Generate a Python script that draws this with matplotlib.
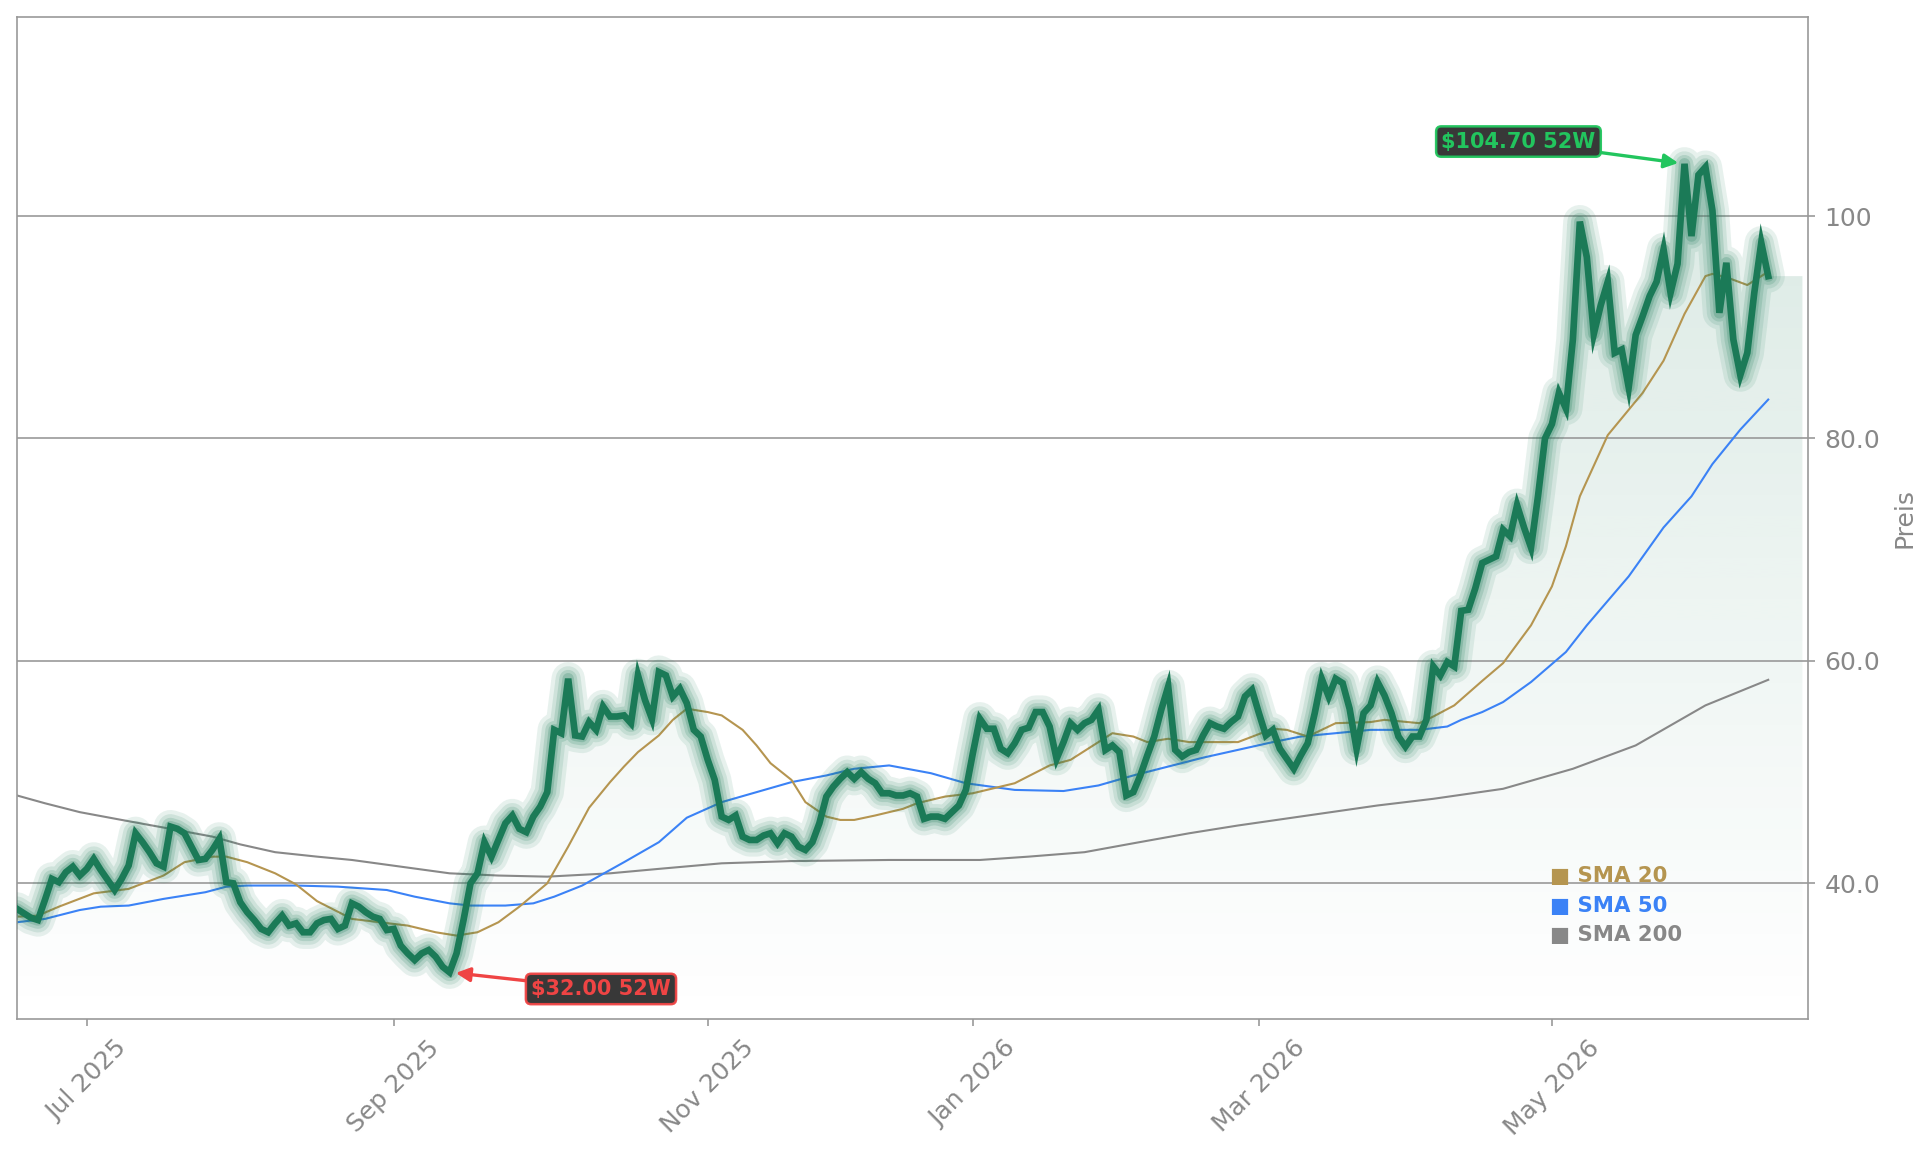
import numpy as np
import matplotlib
matplotlib.use("Agg")
import matplotlib.pyplot as plt
import matplotlib.colors as mcolors
from matplotlib.patches import Polygon
from matplotlib.ticker import FuncFormatter, FixedLocator

# ---------------- data ----------------
prices = [
    37.7, 37.3, 36.9, 36.7, 38.5, 40.4, 40.1, 41.0, 41.5, 40.7,
    41.3, 42.2, 41.2, 40.3, 39.4, 40.4, 41.6, 44.5, 43.7, 42.8,
    41.8, 41.5, 45.1, 44.9, 44.5, 43.3, 42.1, 42.2, 43.0, 44.0,
    40.1, 40.0, 38.3, 37.4, 36.7, 35.9, 35.6, 36.4, 37.1, 36.2,
    36.4, 35.6, 35.6, 36.4, 36.7, 36.8, 35.9, 36.2, 38.2, 37.9,
    37.4, 37.0, 36.8, 35.8, 35.9, 34.4, 33.7, 33.1, 33.7, 34.0,
    33.4, 32.5, 32.0, 33.7, 36.7, 40.0, 40.9, 43.7, 42.4, 43.9,
    45.4, 46.1, 44.9, 44.6, 46.0, 46.9, 48.2, 53.8, 53.5, 58.4,
    53.3, 53.2, 54.5, 53.8, 55.9, 55.0, 55.0, 55.1, 54.4, 58.7,
    56.5, 54.8, 59.0, 58.7, 56.8, 57.5, 56.2, 53.8, 53.2, 51.1,
    49.3, 46.0, 45.7, 46.1, 44.2, 43.9, 43.9, 44.3, 44.5, 43.6,
    44.5, 44.2, 43.3, 43.0, 43.7, 45.4, 47.8, 48.7, 49.4, 50.0,
    49.4, 50.0, 49.4, 49.0, 48.1, 48.1, 47.9, 47.9, 48.1, 47.8,
    45.8, 46.0, 46.0, 45.8, 46.4, 47.0, 48.4, 51.7, 54.8, 53.9,
    53.9, 52.1, 51.7, 52.6, 53.8, 54.0, 55.4, 55.4, 54.1, 51.2,
    52.7, 54.4, 53.8, 54.4, 54.7, 55.6, 52.0, 52.4, 51.8, 47.9,
    48.2, 49.7, 51.5, 53.2, 55.6, 57.7, 52.0, 51.4, 51.8, 52.0,
    53.3, 54.4, 54.1, 53.9, 54.5, 55.0, 56.8, 57.4, 55.3, 53.3,
    53.8, 52.1, 51.2, 50.3, 51.5, 52.6, 55.3, 58.4, 56.8, 58.4,
    58.0, 55.7, 52.1, 55.3, 56.0, 58.1, 56.9, 55.3, 53.2, 52.3,
    53.2, 53.2, 54.7, 59.5, 58.7, 59.9, 59.5, 64.5, 64.6, 66.5,
    68.8, 69.1, 69.4, 71.8, 71.2, 74.0, 72.0, 70.2, 74.8, 80.0,
    81.3, 84.1, 82.7, 88.9, 99.5, 96.3, 89.4, 92.0, 94.1, 87.7,
    88.0, 84.6, 89.3, 91.0, 92.8, 94.1, 97.0, 93.1, 95.7, 104.7,
    98.2, 103.7, 104.4, 100.5, 91.3, 95.8, 88.9, 85.7, 87.7, 93.1,
    97.6, 94.6,
]

# moving averages (trading-day index, value)
sma20_day = [0, 3, 6, 11, 16, 21, 24, 28, 30, 33, 37, 40, 43, 48, 52, 56, 60, 63, 66, 69,
             72, 76, 79, 82, 85, 87, 89, 92, 94, 96, 99, 101, 104, 106, 108, 111, 113, 116,
             118, 120, 123, 127, 129, 133, 137, 143, 148, 151, 155, 157, 160, 162, 165, 168,
             175, 180, 182, 185, 189, 194, 196, 201, 203, 206, 210, 213, 217, 220, 222, 224,
             228, 233, 236, 239, 242, 243, 245, 248, 251]
sma20_val = [37.0, 37.1, 37.9, 39.1, 39.5, 40.7, 41.9, 42.4, 42.4, 41.9, 40.9, 39.9, 38.4,
             36.8, 36.5, 36.2, 35.6, 35.3, 35.6, 36.5, 37.9, 40.0, 43.3, 46.8, 49.1, 50.5,
             51.8, 53.3, 54.7, 55.7, 55.4, 55.1, 53.8, 52.4, 50.8, 49.3, 47.3, 46.0, 45.7,
             45.7, 46.1, 46.7, 47.2, 47.8, 48.1, 49.0, 50.6, 51.1, 52.7, 53.5, 53.2, 52.7,
             53.0, 52.7, 52.7, 53.9, 53.8, 53.2, 54.4, 54.5, 54.7, 54.4, 55.0, 56.0, 58.2,
             59.8, 63.2, 66.7, 70.3, 74.8, 80.3, 84.1, 87.0, 91.2, 94.6, 94.8, 94.5, 93.8,
             95.0]

sma50_day = [0, 4, 9, 12, 16, 21, 27, 30, 33, 40, 46, 53, 57, 62, 65, 70, 74, 77, 81, 85,
             87, 92, 96, 101, 106, 111, 116, 120, 125, 131, 136, 143, 150, 155, 160, 165,
             170, 175, 180, 184, 189, 194, 201, 205, 207, 210, 213, 217, 222, 225, 231, 236,
             240, 243, 247, 251]
sma50_val = [36.5, 36.8, 37.6, 37.9, 38.0, 38.6, 39.2, 39.7, 39.8, 39.8, 39.7, 39.4, 38.8,
             38.2, 38.0, 38.0, 38.2, 38.8, 39.8, 41.2, 41.9, 43.7, 45.9, 47.3, 48.2, 49.1,
             49.7, 50.3, 50.6, 49.9, 49.0, 48.4, 48.3, 48.8, 49.7, 50.5, 51.3, 52.0, 52.7,
             53.2, 53.5, 53.8, 53.8, 54.1, 54.7, 55.4, 56.3, 58.1, 60.8, 63.2, 67.6, 72.0,
             74.8, 77.7, 80.8, 83.5]

sma200_day = [0, 4, 9, 15, 22, 28, 32, 37, 43, 48, 55, 62, 69, 76, 85, 92, 101, 111, 125,
              138, 145, 153, 160, 168, 175, 185, 195, 203, 213, 223, 232, 242, 251]
sma200_val = [47.9, 47.2, 46.4, 45.7, 44.9, 44.2, 43.5, 42.8, 42.4, 42.1, 41.5, 40.9, 40.7,
              40.6, 40.9, 41.3, 41.8, 42.0, 42.1, 42.1, 42.4, 42.8, 43.6, 44.5, 45.2, 46.1,
              47.0, 47.6, 48.5, 50.3, 52.4, 56.0, 58.3]

tick_day = [10, 54, 99, 137, 178, 220]
tick_labels = ["Jul 2025", "Sep 2025", "Nov 2025", "Jan 2026", "Mar 2026", "May 2026"]
y_ticks = [40, 60, 80, 100]

legend_names = ["SMA 20", "SMA 50", "SMA 200"]

# ---------------- style ----------------
GREEN = "#1b7a57"
GOLD = "#b59550"
BLUE = "#3b82f6"
GRAY = "#888888"
AXC = "#999999"
TXT = "#888888"
HI = "#22c55e"
LO = "#ef4444"

W, H, DPI = 1929, 1153, 150
fig = plt.figure(figsize=(W / DPI, H / DPI), dpi=DPI)
fig.patch.set_facecolor("white")
ax = fig.add_axes([17 / W, 1 - 1019 / H, (1808 - 17) / W, (1019 - 17) / H])
ax.set_facecolor("white")

x = np.arange(len(prices))
p = np.array(prices)
ymin, ymax = 27.8, 117.9
xmax = len(prices) - 1 + 5.7
fill_end = len(prices) - 1 + 4.9
ax.set_xlim(0, xmax)
ax.set_ylim(ymin, ymax)

# gradient fill under the price
verts = [(0, ymin)] + list(zip(x, p)) + [(fill_end, p[-1]), (fill_end, ymin)]
poly = Polygon(verts, closed=True, facecolor="none", edgecolor="none")
ax.add_patch(poly)
grad = np.zeros((256, 1, 4))
grad[:, 0, :3] = mcolors.to_rgb(GREEN)
grad[:, 0, 3] = np.linspace(0.16, 0.0, 256)
im = ax.imshow(grad, aspect="auto", extent=[0, fill_end, ymin, p.max()],
               origin="upper", zorder=1, interpolation="bilinear")
im.set_clip_path(poly)

# grid
ax.yaxis.grid(True, color=AXC, lw=0.8, zorder=1.5)
ax.xaxis.grid(False)

# moving averages
ax.plot(sma200_day, sma200_val, color=GRAY, lw=1.0, zorder=2.5)
ax.plot(sma50_day, sma50_val, color=BLUE, lw=1.0, zorder=2.5)
ax.plot(sma20_day, sma20_val, color=GOLD, lw=1.0, zorder=2.5)

# glowing price line
for lw, a in [(16.0, 0.10), (12.0, 0.12), (8.5, 0.16), (5.5, 0.22)]:
    ax.plot(x, p, color=GREEN, lw=lw, alpha=a, solid_joinstyle="round",
            solid_capstyle="round", zorder=3)
ax.plot(x, p, color=GREEN, lw=3.2, zorder=4, solid_joinstyle="miter")

# 52-week annotations
imax, imin = int(np.argmax(p)), int(np.argmin(p))
ax.annotate(f"${p[imax]:.2f} 52W", xy=(imax, p[imax]), xytext=(imax - 23.8, p[imax] + 2.0),
            ha="center", va="center", fontsize=10, fontweight="bold", color=HI,
            bbox=dict(boxstyle="round,pad=0.25", fc="#2d2d2d", ec=HI, lw=1.2, alpha=0.95),
            arrowprops=dict(arrowstyle="-|>", color=HI, lw=1.6, mutation_scale=14,
                            shrinkA=0, shrinkB=3), zorder=6)
ax.annotate(f"${p[imin]:.2f} 52W", xy=(imin, p[imin]), xytext=(imin + 21.7, p[imin] - 1.5),
            ha="center", va="center", fontsize=10, fontweight="bold", color=LO,
            bbox=dict(boxstyle="round,pad=0.25", fc="#2d2d2d", ec=LO, lw=1.2, alpha=0.95),
            arrowprops=dict(arrowstyle="-|>", color=LO, lw=1.6, mutation_scale=14,
                            shrinkA=0, shrinkB=3), zorder=6)

# legend as coloured text
for k, (name, col) in enumerate(zip(legend_names, [GOLD, BLUE, GRAY])):
    ax.text(0.856, 0.1427 - k * 0.0295, "\u25a0 " + name, transform=ax.transAxes,
            color=col, fontsize=10.2, fontweight="bold", ha="left", va="center", zorder=7)

# axes styling
for s in ax.spines.values():
    s.set_color(AXC)
    s.set_linewidth(0.8)

ax.yaxis.tick_right()
ax.yaxis.set_label_position("right")
ax.yaxis.set_major_locator(FixedLocator(y_ticks))
ax.yaxis.set_major_formatter(FuncFormatter(lambda v, _: f"{v:.0f}" if v >= 100 else f"{v:.1f}"))
ax.set_xticks(tick_day)
ax.set_xticklabels(tick_labels, rotation=45, ha="center")
ax.tick_params(axis="both", colors=AXC, labelcolor=TXT, labelsize=12, length=3.5,
               width=0.8, pad=4.5)
ax.set_ylabel("Preis", color=TXT, fontsize=12, labelpad=6)

fig.savefig("out.png", dpi=DPI, facecolor="white")
